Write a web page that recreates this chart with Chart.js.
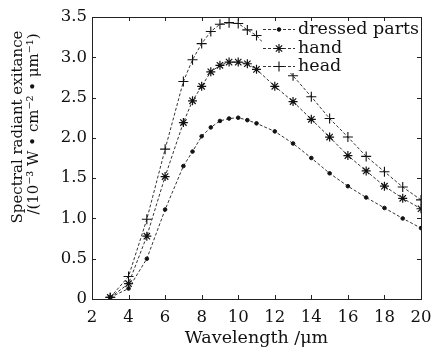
<!DOCTYPE html>
<html><head><meta charset="utf-8">
<script src="https://cdn.jsdelivr.net/npm/chart.js@4.4.1/dist/chart.umd.min.js"></script>
<style>html,body{margin:0;padding:0;background:#fff}#wrap{width:433px;height:352px}</style>
</head><body><div id="wrap"><canvas id="c" width="433" height="352"></canvas></div>
<script>
const wavelengths = [3, 4, 5, 6, 7, 7.5, 8, 8.5, 9, 9.5, 10, 10.5, 11, 12, 13, 14, 15, 16, 17, 18, 19, 20];
const dressedParts = [0.02, 0.13, 0.50, 1.11, 1.65, 1.83, 2.02, 2.13, 2.21, 2.24, 2.25, 2.22, 2.18, 2.08, 1.93, 1.75, 1.56, 1.40, 1.26, 1.13, 1.00, 0.88];
const hand = [0.02, 0.19, 0.78, 1.52, 2.19, 2.46, 2.64, 2.82, 2.90, 2.94, 2.94, 2.92, 2.85, 2.64, 2.45, 2.23, 2.01, 1.78, 1.59, 1.40, 1.25, 1.12];
const head = [0.02, 0.28, 0.99, 1.86, 2.70, 2.97, 3.17, 3.32, 3.41, 3.43, 3.42, 3.34, 3.27, 3.02, 2.77, 2.51, 2.24, 2.01, 1.77, 1.58, 1.39, 1.23];
const seriesNames = ['dressed parts', 'hand', 'head'];
const xTicks = [2, 4, 6, 8, 10, 12, 14, 16, 18, 20];
const yTicks = [0, 0.5, 1.0, 1.5, 2.0, 2.5, 3.0, 3.5];
const xTitle = 'Wavelength /\u03bcm';
const yTitle = ['Spectral radiant exitance', '/(10\u207b\u00b3 W \u2022 cm\u207b\u00b2 \u2022 \u03bcm\u207b\u00b9)'];

const INK = '#111';
const LINE = '#333';
const SERIF = "'DejaVu Serif', serif";

function pts(ys) { return wavelengths.map((x, i) => ({x: x, y: ys[i]})); }
const styles = [
  {pointStyle: 'circle', radius: 1.8, borderWidth: 1},
  {pointStyle: 'star', radius: 4.5, borderWidth: 1.2},
  {pointStyle: 'cross', radius: 5, borderWidth: 1.1}
];
const datasets = [dressedParts, hand, head].map((ys, i) => ({
  label: seriesNames[i],
  data: pts(ys),
  borderColor: LINE,
  backgroundColor: INK,
  borderWidth: 1,
  borderDash: [3, 2],
  tension: 0,
  pointStyle: styles[i].pointStyle,
  pointRadius: styles[i].radius,
  pointBorderWidth: styles[i].borderWidth,
  pointBorderColor: INK,
  pointBackgroundColor: INK
}));

const framePlugin = {
  id: 'frame',
  afterDatasetsDraw(chart) {
    const ctx = chart.ctx, a = chart.chartArea;
    const xs = chart.scales.x, ys = chart.scales.y;
    ctx.save();
    // legend (opaque)
    ctx.font = "17.5px " + SERIF;
    const textX = a.right - 123;
    const rows = [a.top + 12, a.top + 31, a.top + 49];
    ctx.fillStyle = '#fff';
    ctx.fillRect(textX - 36, a.top + 2, a.right - (textX - 36) - 1, 54);
    seriesNames.forEach((name, i) => {
      const y = rows[i];
      ctx.strokeStyle = LINE; ctx.lineWidth = 1; ctx.setLineDash([3, 2]);
      ctx.beginPath(); ctx.moveTo(textX - 35, y + 0.5); ctx.lineTo(textX - 3, y + 0.5); ctx.stroke();
      ctx.setLineDash([]);
      ctx.strokeStyle = INK; ctx.fillStyle = INK; ctx.lineWidth = styles[i].borderWidth;
      Chart.helpers.drawPoint(ctx, {pointStyle: styles[i].pointStyle, radius: styles[i].radius, rotation: 0, borderWidth: styles[i].borderWidth}, textX - 19, y + 0.5);
      ctx.fillStyle = INK; ctx.textAlign = 'left'; ctx.textBaseline = 'middle';
      ctx.fillText(name, textX, y);
    });
    // box
    ctx.strokeStyle = '#222'; ctx.lineWidth = 1;
    ctx.strokeRect(Math.round(a.left) + 0.5, Math.round(a.top) + 0.5, Math.round(a.right - a.left), Math.round(a.bottom - a.top));
    // inward ticks on all four sides
    const tl = 4;
    ctx.beginPath();
    xTicks.forEach(v => {
      const px = Math.round(xs.getPixelForValue(v)) + 0.5;
      ctx.moveTo(px, a.bottom); ctx.lineTo(px, a.bottom - tl);
      ctx.moveTo(px, a.top); ctx.lineTo(px, a.top + tl);
    });
    yTicks.forEach(v => {
      const py = Math.round(ys.getPixelForValue(v)) + 0.5;
      ctx.moveTo(a.left, py); ctx.lineTo(a.left + tl, py);
      ctx.moveTo(a.right, py); ctx.lineTo(a.right - tl, py);
    });
    ctx.stroke();
    // y-axis title (two lines, rotated)
    ctx.fillStyle = INK; ctx.textAlign = 'center'; ctx.textBaseline = 'middle';
    ctx.font = "15px " + SERIF;
    const cy = a.top + 110;
    ctx.save(); ctx.translate(18, cy); ctx.rotate(-Math.PI / 2); ctx.fillText(yTitle[0], 0, 0); ctx.restore();
    ctx.save(); ctx.translate(34, cy - 3); ctx.rotate(-Math.PI / 2); ctx.fillText(yTitle[1], 0, 0); ctx.restore();
    ctx.restore();
  }
};

new Chart(document.getElementById('c'), {
  type: 'line',
  data: {datasets: datasets},
  options: {
    responsive: false,
    animation: false,
    devicePixelRatio: 1,
    layout: {padding: {top: 17, right: 12, left: 0, bottom: 0}},
    plugins: {legend: {display: false}, tooltip: {enabled: false}},
    scales: {
      x: {
        type: 'linear', min: 2, max: 20,
        afterBuildTicks: s => { s.ticks = xTicks.map(v => ({value: v})); },
        afterFit: s => { s.height = 53; s.paddingLeft = 0; s.paddingRight = 0; },
        grid: {display: false, drawTicks: false},
        border: {display: false},
        ticks: {color: INK, font: {family: SERIF, size: 16.5}, padding: 9, maxRotation: 0, callback: v => String(v)},
        title: {display: true, text: xTitle, color: INK, font: {family: SERIF, size: 17.5, lineHeight: 1.2}, padding: {top: 0, bottom: 3}}
      },
      y: {
        type: 'linear', min: 0, max: 3.5,
        afterBuildTicks: s => { s.ticks = yTicks.map(v => ({value: v})); },
        afterFit: s => { s.width = 92; s.paddingTop = 0; s.paddingBottom = 0; },
        grid: {display: false, drawTicks: false},
        border: {display: false},
        ticks: {color: INK, font: {family: SERIF, size: 16.5}, padding: 5, callback: v => (v === 0 ? '0' : v.toFixed(1))}
      }
    }
  },
  plugins: [framePlugin]
});
</script>
</body></html>
